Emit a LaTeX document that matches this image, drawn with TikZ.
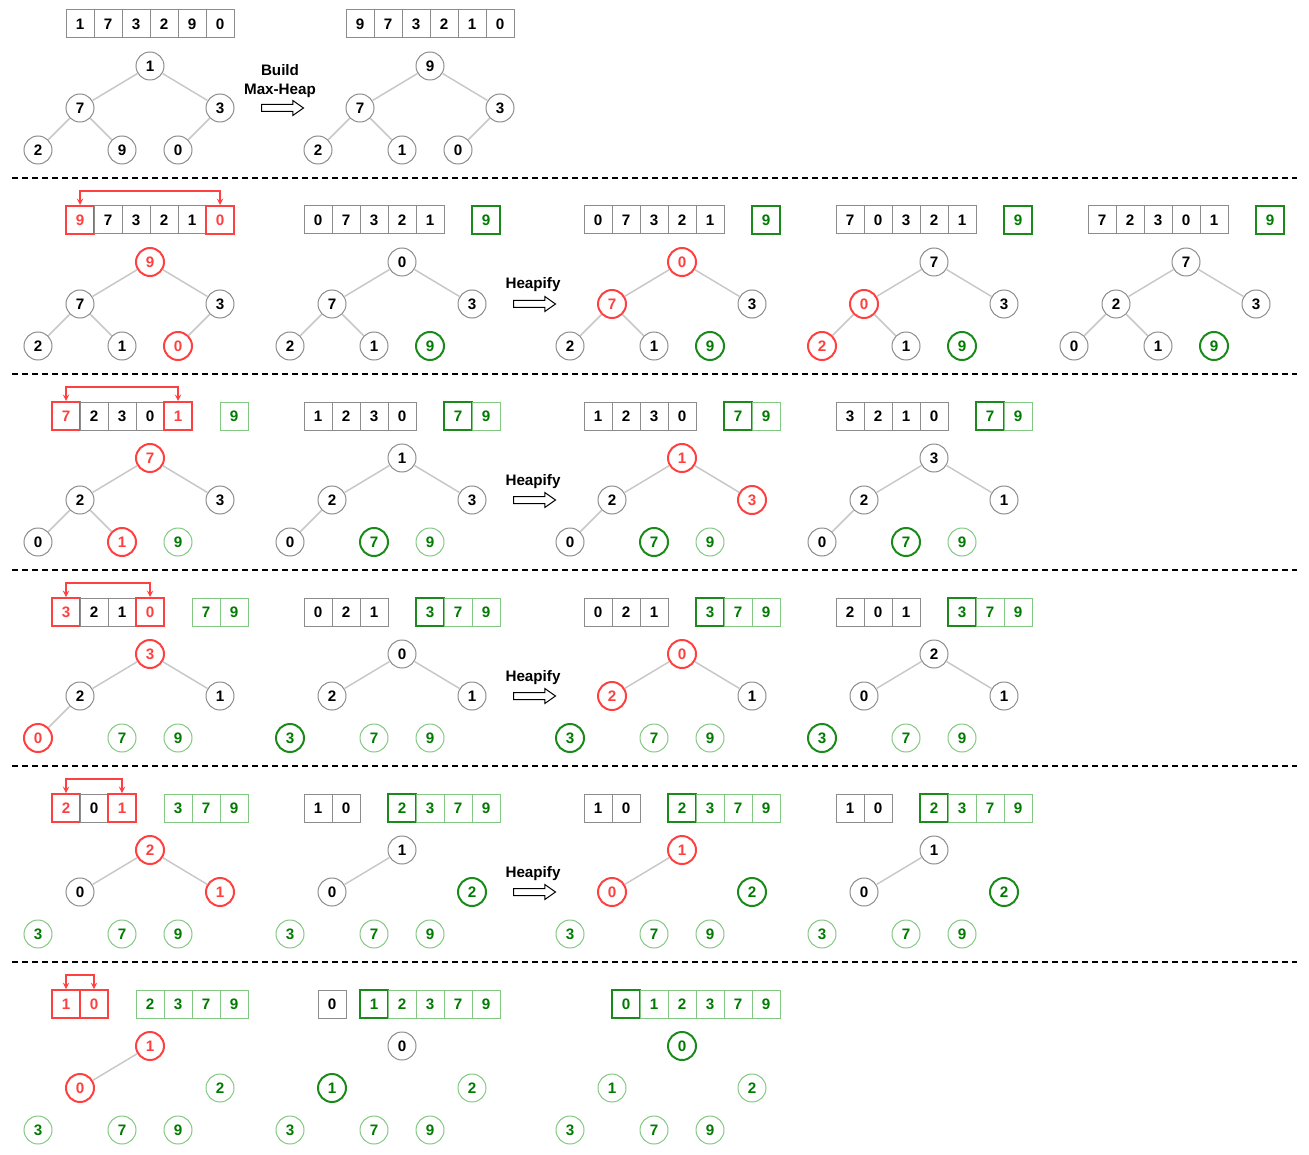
\documentclass[tikz,border=0pt]{standalone}
\usepackage{fontspec}
\setmainfont{Liberation Sans}
\usetikzlibrary{shapes.arrows}

\definecolor{chaud}{HTML}{FF4040}
\definecolor{vertfonce}{HTML}{1A8A1A}
\definecolor{vertclair}{HTML}{82C882}
\definecolor{textevert}{HTML}{007A00}
\definecolor{grisbord}{HTML}{8C8C8C}
\definecolor{grisarete}{HTML}{C8C8C8}

% Les cases d'un tableau : nom, x de la première case, y, valeurs/styles
\newcommand{\cellules}[4]{%
  \foreach \v/\s [count=\k] in {#4}
    \node[case, \s] (#1\k) at ({#2+28*(\k-1)}, #3) {\v};}

% Un arbre : nom, x et y de la racine, valeurs/styles, taille du tas
\newcommand{\arbre}[5]{%
  \foreach \v/\s [count=\i from 0] in {#4} {
    \pgfmathsetmacro{\dx}{{0,-70,70,-112,-28,28}[\i]}
    \pgfmathsetmacro{\dy}{{0,42,42,84,84,84}[\i]}
    \node[noeud, \s] (#1-\i) at ({#2+\dx}, {#3+\dy}) {\v};
  }
  \foreach \fils/\pere in {1/0,2/0,3/1,4/1,5/2}
    {\ifnum\fils<#5 \draw[arete] (#1-\pere) -- (#1-\fils);\fi}
}

\begin{document}
\begin{tikzpicture}[x=0.75pt, y=-0.75pt, >=stealth,
  police/.style={font=\fontsize{11.4}{14.25}\selectfont\bfseries},
  case/.style={rectangle, minimum size=21pt, inner sep=0pt, police},
  noeud/.style={circle, minimum size=21pt, inner sep=0pt, police},
  nrm/.style={draw=grisbord, line width=0.75pt},
  hot/.style={draw=chaud, line width=1.5pt, text=chaud},
  frais/.style={draw=vertfonce, line width=1.5pt, text=textevert},
  fini/.style={draw=vertclair, line width=0.75pt, text=textevert},
  arete/.style={draw=grisarete, line width=1.1pt},
  echange/.style={draw=chaud, line width=1.1pt, <->},
  fleche/.style={single arrow, draw, line width=0.75pt, minimum height=31.5pt,
    single arrow head extend=3pt, single arrow tip angle=70,
    inner xsep=0pt, inner ysep=2.25pt},
  separateur/.style={dash pattern=on 4.5pt off 3pt, line width=1.2pt}]

\useasboundingbox (0,0) rectangle (1309,1155);

% Les séparations entre les étapes
\foreach \y in {178,374,570,766,962}
\draw[separateur] (12,\y) -- (1297,\y);

% Étape 1 : construction du tas
\cellules{h11-}{80}{24}{1/nrm,7/nrm,3/nrm,2/nrm,9/nrm,0/nrm}
\arbre{t11}{150}{66}{1/nrm,7/nrm,3/nrm,2/nrm,9/nrm,0/nrm}{6}
\node[police, align=center, anchor=north, inner sep=0pt] (construire) at (280,64) {Build\\Max-Heap};
\node[fleche] (f1) at (280,108) {};
\cellules{h12-}{360}{24}{9/nrm,7/nrm,3/nrm,2/nrm,1/nrm,0/nrm}
\arbre{t12}{430}{66}{9/nrm,7/nrm,3/nrm,2/nrm,1/nrm,0/nrm}{6}

% Étape 2
\cellules{h21-}{80}{220}{9/hot,7/nrm,3/nrm,2/nrm,1/nrm,0/hot}
\draw[echange] (h21-1.north) -- ++(0,-14) -| (h21-6.north);
\arbre{t21}{150}{262}{9/hot,7/nrm,3/nrm,2/nrm,1/nrm,0/hot}{6}
\cellules{h22-}{318}{220}{0/nrm,7/nrm,3/nrm,2/nrm,1/nrm}
\cellules{s22-}{486}{220}{9/frais}
\arbre{t22}{402}{262}{0/nrm,7/nrm,3/nrm,2/nrm,1/nrm,9/frais}{5}
\node[police, anchor=base] (tas2) at (533,289) {Heapify};
\node[fleche] (f2) at (532,304) {};
\cellules{h23-}{598}{220}{0/nrm,7/nrm,3/nrm,2/nrm,1/nrm}
\cellules{s23-}{766}{220}{9/frais}
\arbre{t23}{682}{262}{0/hot,7/hot,3/nrm,2/nrm,1/nrm,9/frais}{5}
\cellules{h24-}{850}{220}{7/nrm,0/nrm,3/nrm,2/nrm,1/nrm}
\cellules{s24-}{1018}{220}{9/frais}
\arbre{t24}{934}{262}{7/nrm,0/hot,3/nrm,2/hot,1/nrm,9/frais}{5}
\cellules{h25-}{1102}{220}{7/nrm,2/nrm,3/nrm,0/nrm,1/nrm}
\cellules{s25-}{1270}{220}{9/frais}
\arbre{t25}{1186}{262}{7/nrm,2/nrm,3/nrm,0/nrm,1/nrm,9/frais}{5}

% Étape 3
\cellules{h31-}{66}{416}{7/hot,2/nrm,3/nrm,0/nrm,1/hot}
\cellules{s31-}{234}{416}{9/fini}
\draw[echange] (h31-1.north) -- ++(0,-14) -| (h31-5.north);
\arbre{t31}{150}{458}{7/hot,2/nrm,3/nrm,0/nrm,1/hot,9/fini}{5}
\cellules{h32-}{318}{416}{1/nrm,2/nrm,3/nrm,0/nrm}
\cellules{s32-}{458}{416}{7/frais,9/fini}
\arbre{t32}{402}{458}{1/nrm,2/nrm,3/nrm,0/nrm,7/frais,9/fini}{4}
\node[police, anchor=base] (tas3) at (533,485) {Heapify};
\node[fleche] (f3) at (532,500) {};
\cellules{h33-}{598}{416}{1/nrm,2/nrm,3/nrm,0/nrm}
\cellules{s33-}{738}{416}{7/frais,9/fini}
\arbre{t33}{682}{458}{1/hot,2/nrm,3/hot,0/nrm,7/frais,9/fini}{4}
\cellules{h34-}{850}{416}{3/nrm,2/nrm,1/nrm,0/nrm}
\cellules{s34-}{990}{416}{7/frais,9/fini}
\arbre{t34}{934}{458}{3/nrm,2/nrm,1/nrm,0/nrm,7/frais,9/fini}{4}

% Étape 4
\cellules{h41-}{66}{612}{3/hot,2/nrm,1/nrm,0/hot}
\cellules{s41-}{206}{612}{7/fini,9/fini}
\draw[echange] (h41-1.north) -- ++(0,-14) -| (h41-4.north);
\arbre{t41}{150}{654}{3/hot,2/nrm,1/nrm,0/hot,7/fini,9/fini}{4}
\cellules{h42-}{318}{612}{0/nrm,2/nrm,1/nrm}
\cellules{s42-}{430}{612}{3/frais,7/fini,9/fini}
\arbre{t42}{402}{654}{0/nrm,2/nrm,1/nrm,3/frais,7/fini,9/fini}{3}
\node[police, anchor=base] (tas4) at (533,681) {Heapify};
\node[fleche] (f4) at (532,696) {};
\cellules{h43-}{598}{612}{0/nrm,2/nrm,1/nrm}
\cellules{s43-}{710}{612}{3/frais,7/fini,9/fini}
\arbre{t43}{682}{654}{0/hot,2/hot,1/nrm,3/frais,7/fini,9/fini}{3}
\cellules{h44-}{850}{612}{2/nrm,0/nrm,1/nrm}
\cellules{s44-}{962}{612}{3/frais,7/fini,9/fini}
\arbre{t44}{934}{654}{2/nrm,0/nrm,1/nrm,3/frais,7/fini,9/fini}{3}

% Étape 5
\cellules{h51-}{66}{808}{2/hot,0/nrm,1/hot}
\cellules{s51-}{178}{808}{3/fini,7/fini,9/fini}
\draw[echange] (h51-1.north) -- ++(0,-14) -| (h51-3.north);
\arbre{t51}{150}{850}{2/hot,0/nrm,1/hot,3/fini,7/fini,9/fini}{3}
\cellules{h52-}{318}{808}{1/nrm,0/nrm}
\cellules{s52-}{402}{808}{2/frais,3/fini,7/fini,9/fini}
\arbre{t52}{402}{850}{1/nrm,0/nrm,2/frais,3/fini,7/fini,9/fini}{2}
\node[police, anchor=base] (tas5) at (533,877) {Heapify};
\node[fleche] (f5) at (532,892) {};
\cellules{h53-}{598}{808}{1/nrm,0/nrm}
\cellules{s53-}{682}{808}{2/frais,3/fini,7/fini,9/fini}
\arbre{t53}{682}{850}{1/hot,0/hot,2/frais,3/fini,7/fini,9/fini}{2}
\cellules{h54-}{850}{808}{1/nrm,0/nrm}
\cellules{s54-}{934}{808}{2/frais,3/fini,7/fini,9/fini}
\arbre{t54}{934}{850}{1/nrm,0/nrm,2/frais,3/fini,7/fini,9/fini}{2}

% Étape 6
\cellules{h61-}{66}{1004}{1/hot,0/hot}
\cellules{s61-}{150}{1004}{2/fini,3/fini,7/fini,9/fini}
\draw[echange] (h61-1.north) -- ++(0,-14) -| (h61-2.north);
\arbre{t61}{150}{1046}{1/hot,0/hot,2/fini,3/fini,7/fini,9/fini}{2}
\cellules{h62-}{332}{1004}{0/nrm}
\cellules{s62-}{374}{1004}{1/frais,2/fini,3/fini,7/fini,9/fini}
\arbre{t62}{402}{1046}{0/nrm,1/frais,2/fini,3/fini,7/fini,9/fini}{1}
\cellules{s63-}{626}{1004}{0/frais,1/fini,2/fini,3/fini,7/fini,9/fini}
\arbre{t63}{682}{1046}{0/frais,1/fini,2/fini,3/fini,7/fini,9/fini}{0}

\end{tikzpicture}
\end{document}
